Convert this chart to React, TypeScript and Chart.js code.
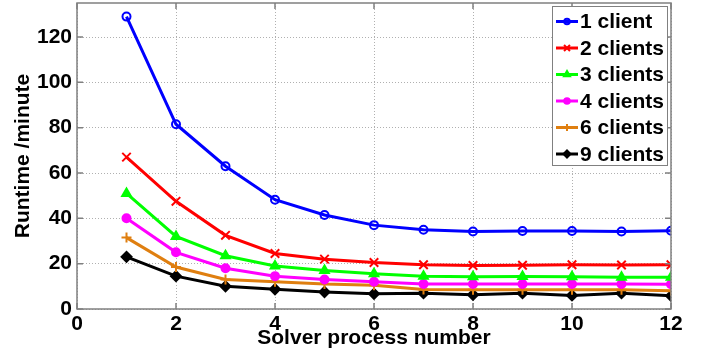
import React, { useEffect, useRef } from "react";
import { Chart, registerables } from "chart.js";
import { drawPoint } from "chart.js/helpers";

Chart.register(...registerables);

const processes = [1, 2, 3, 4, 5, 6, 7, 8, 9, 10, 11, 12];
const client1 = [129, 81.5, 63, 48.2, 41.5, 37, 35, 34.2, 34.4, 34.4, 34.2, 34.5];
const client2 = [67, 47.5, 32.5, 24.5, 22, 20.5, 19.5, 19.2, 19.3, 19.5, 19.4, 19.5];
const client3 = [51, 32, 23.5, 19, 17, 15.5, 14.5, 14.2, 14.3, 14.2, 14.0, 14.0];
const client4 = [40, 25, 18, 14.5, 13, 12, 11, 11, 11, 11, 11, 10.9];
const client6 = [31.5, 18.5, 13, 12, 11, 10.5, 8.6, 8.5, 8.5, 8.5, 8.5, 8];
const client9 = [23, 14.5, 10, 8.7, 7.5, 6.7, 7, 6.3, 7, 6, 7, 5.8];
const seriesLabels = ["1 client", "2 clients", "3 clients", "4 clients", "6 clients", "9 clients"];
const xTicks = [0, 2, 4, 6, 8, 10, 12];
const yTicks = [0, 20, 40, 60, 80, 100, 120];

const FONT = "'Liberation Sans', Arial, sans-serif";

const framePlugin = {
  id: "frame",
  afterDraw(chart: any) {
    const { ctx, chartArea } = chart;
    const { left, right, top, bottom } = chartArea;
    ctx.save();
    ctx.strokeStyle = "#808080";
    ctx.lineWidth = 1.5;
    ctx.strokeRect(left, top, right - left, bottom - top);
    const xs = chart.scales.x;
    const ys = chart.scales.y;
    const tl = 6;
    ctx.beginPath();
    xTicks.forEach((v) => {
      const px = xs.getPixelForValue(v);
      ctx.moveTo(px, bottom);
      ctx.lineTo(px, bottom - tl);
      ctx.moveTo(px, top);
      ctx.lineTo(px, top + tl);
    });
    yTicks.forEach((v) => {
      const py = ys.getPixelForValue(v);
      ctx.moveTo(left, py);
      ctx.lineTo(left + tl, py);
      ctx.moveTo(right, py);
      ctx.lineTo(right - tl, py);
    });
    ctx.stroke();

    // legend
    const bx = 552, by = 6, bw = 115, bh = 159;
    ctx.fillStyle = "#ffffff";
    ctx.fillRect(bx, by, bw, bh);
    ctx.strokeStyle = "#808080";
    ctx.lineWidth = 1;
    ctx.strokeRect(bx + 0.5, by + 0.5, bw, bh);
    ctx.font = `bold 21px ${FONT}`;
    ctx.textBaseline = "middle";
    ctx.textAlign = "left";
    chart.data.datasets.forEach((ds: any, i: number) => {
      const cy = by + 15.5 + i * 26.5;
      ctx.strokeStyle = ds.borderColor;
      ctx.lineWidth = 3;
      ctx.beginPath();
      ctx.moveTo(bx + 4, cy);
      ctx.lineTo(bx + 26, cy);
      ctx.stroke();
      ctx.fillStyle = ds.pointBackgroundColor;
      ctx.strokeStyle = ds.borderColor;
      ctx.lineWidth = 2;
      drawPoint(ctx, { pointStyle: ds.pointStyle, radius: ds.pointRadius * 0.7, borderWidth: 2, rotation: 0 } as any, bx + 15, cy);
      ctx.fillStyle = "#000000";
      ctx.fillText(ds.label, bx + 28, cy + 1);
    });
    ctx.restore();
  },
};

function mk(label: string, values: number[], color: string, style: string, fill: string, radius: number) {
  return {
    label,
    data: processes.map((p, i) => ({ x: p, y: values[i] })),
    borderColor: color,
    backgroundColor: color,
    pointBackgroundColor: fill,
    pointBorderColor: color,
    pointStyle: style,
    pointRadius: radius,
    pointBorderWidth: 2,
    borderWidth: 3,
    tension: 0,
  };
}

export default function App() {
  const ref = useRef<HTMLCanvasElement>(null);
  useEffect(() => {
    document.body.style.margin = "0";
    const chart = new Chart(ref.current!, {
      type: "line",
      data: {
        datasets: [
          mk(seriesLabels[0], client1, "#0000ff", "circle", "rgba(0,0,0,0)", 4),
          mk(seriesLabels[1], client2, "#ff0000", "crossRot", "#ff0000", 6),
          mk(seriesLabels[2], client3, "#00ff00", "triangle", "#00ff00", 5),
          mk(seriesLabels[3], client4, "#ff00ff", "circle", "#ff00ff", 4),
          mk(seriesLabels[4], client6, "#df7f10", "cross", "#df7f10", 5),
          mk(seriesLabels[5], client9, "#000000", "rectRot", "#000000", 5),
        ] as any,
      },
      options: {
        animation: false,
        responsive: false,
        layout: { autoPadding: false, padding: { top: 3, right: 38, left: 0, bottom: 0 } },
        plugins: { legend: { display: false }, tooltip: { enabled: false } },
        scales: {
          x: {
            type: "linear",
            min: 0,
            max: 12,
            afterBuildTicks: (s: any) => { s.ticks = xTicks.map((v) => ({ value: v })); },
            afterFit: (s: any) => { s.height = 49; s.paddingLeft = 0; s.paddingRight = 0; },
            grid: { color: "#b0b0b0", drawTicks: false, lineWidth: 1 },
            border: { display: false, dash: [1, 2] },
            ticks: { color: "#000", font: { family: FONT, size: 21, weight: "bold" }, padding: 3, maxRotation: 0 },
            title: { display: true, text: "Solver process number", color: "#000", font: { family: FONT, size: 21, weight: "bold" }, padding: { top: 0, bottom: 7 } },
          },
          y: {
            min: 0,
            max: 135,
            afterBuildTicks: (s: any) => { s.ticks = yTicks.map((v) => ({ value: v })); },
            afterFit: (s: any) => { s.width = 77; s.paddingTop = 0; s.paddingBottom = 0; },
            grid: { color: "#b0b0b0", drawTicks: false, lineWidth: 1 },
            border: { display: false, dash: [1, 2] },
            ticks: { color: "#000", font: { family: FONT, size: 21, weight: "bold" }, padding: 5 },
            title: { display: true, text: "Runtime /minute", color: "#000", font: { family: FONT, size: 21, weight: "bold" }, padding: { top: 11, bottom: 0 } },
          },
        },
      } as any,
      plugins: [framePlugin],
    });
    return () => chart.destroy();
  }, []);
  return (
    <div style={{ width: 709, height: 358, background: "#fff" }}>
      <canvas ref={ref} width={709} height={358} style={{ display: "block" }} />
    </div>
  );
}
